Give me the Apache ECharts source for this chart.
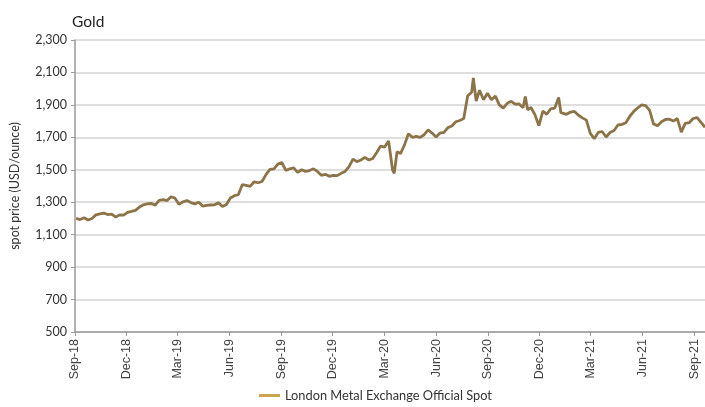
<!DOCTYPE html>
<html><head><meta charset="utf-8">
<script src="https://cdn.jsdelivr.net/npm/echarts@6/dist/echarts.min.js"></script>
<style>html,body{margin:0;padding:0;background:#fff}#c{width:705px;height:407px}</style>
</head><body><div id="c"></div>
<script>
const chartTitle = "Gold";
const seriesName = "London Metal Exchange Official Spot";
const yAxisName = "spot price (USD/ounce)";
const tickDates = ["2018-09-01","2018-12-01","2019-03-01","2019-06-01","2019-09-01","2019-12-01","2020-03-01","2020-06-01","2020-09-01","2020-12-01","2021-03-01","2021-06-01","2021-09-01"];
const tickLabels = ["Sep-18","Dec-18","Mar-19","Jun-19","Sep-19","Dec-19","Mar-20","Jun-20","Sep-20","Dec-20","Mar-21","Jun-21","Sep-21"];
const dates = [
"2018-09-03","2018-09-10","2018-09-17","2018-09-24","2018-10-01","2018-10-08","2018-10-15","2018-10-22","2018-10-29",
"2018-11-05","2018-11-12","2018-11-19","2018-11-26","2018-12-03","2018-12-10","2018-12-17","2018-12-24","2018-12-31",
"2019-01-07","2019-01-14","2019-01-21","2019-01-28","2019-02-04","2019-02-11","2019-02-18","2019-02-25",
"2019-03-04","2019-03-11","2019-03-18","2019-03-25","2019-04-01","2019-04-08","2019-04-15","2019-04-22","2019-04-29",
"2019-05-06","2019-05-13","2019-05-20","2019-05-27","2019-06-03","2019-06-10","2019-06-17","2019-06-24",
"2019-07-01","2019-07-08","2019-07-15","2019-07-22","2019-07-29","2019-08-05","2019-08-12","2019-08-19","2019-08-26",
"2019-09-02","2019-09-09","2019-09-16","2019-09-23","2019-09-30","2019-10-07","2019-10-14","2019-10-21","2019-10-28",
"2019-11-04","2019-11-11","2019-11-18","2019-11-25","2019-12-02","2019-12-09","2019-12-16","2019-12-23","2019-12-30",
"2020-01-06","2020-01-13","2020-01-20","2020-01-27","2020-02-03","2020-02-10","2020-02-17","2020-02-24",
"2020-03-02","2020-03-09","2020-03-16","2020-03-19","2020-03-24","2020-03-30","2020-04-06","2020-04-13","2020-04-20","2020-04-27",
"2020-05-04","2020-05-11","2020-05-18","2020-05-25","2020-06-01","2020-06-08","2020-06-15","2020-06-22","2020-06-29",
"2020-07-06","2020-07-13","2020-07-20","2020-07-27","2020-08-03","2020-08-06","2020-08-11","2020-08-17","2020-08-24","2020-08-31",
"2020-09-07","2020-09-14","2020-09-21","2020-09-28","2020-10-05","2020-10-12","2020-10-19","2020-10-26",
"2020-11-02","2020-11-06","2020-11-10","2020-11-16","2020-11-23","2020-11-30","2020-12-07","2020-12-14","2020-12-21","2020-12-28",
"2021-01-04","2021-01-08","2021-01-11","2021-01-18","2021-01-25","2021-02-01","2021-02-08","2021-02-15","2021-02-22",
"2021-03-01","2021-03-08","2021-03-15","2021-03-22","2021-03-29","2021-04-05","2021-04-12","2021-04-19","2021-04-26",
"2021-05-03","2021-05-10","2021-05-17","2021-05-24","2021-05-31","2021-06-07","2021-06-14","2021-06-21","2021-06-28",
"2021-07-05","2021-07-12","2021-07-19","2021-07-26","2021-08-02","2021-08-09","2021-08-16","2021-08-23","2021-08-30",
"2021-09-06","2021-09-13","2021-09-20"
];
const prices = [
1200,1193,1204,1190,1200,1222,1228,1233,1224,
1226,1208,1222,1220,1238,1243,1250,1270,1284,
1290,1292,1282,1312,1316,1310,1334,1325,
1288,1302,1310,1298,1290,1300,1276,1280,1283,
1284,1296,1274,1286,1326,1340,1346,1408,
1404,1398,1426,1420,1428,1470,1502,1505,1535,
1545,1496,1506,1512,1484,1500,1490,1495,1506,
1490,1466,1472,1460,1466,1464,1478,1490,1520,
1566,1550,1560,1576,1560,1570,1606,1646,
1640,1678,1500,1478,1612,1600,1652,1722,1700,1706,
1700,1716,1746,1726,1702,1726,1730,1760,1770,
1796,1804,1816,1956,1978,2066,1924,1990,1932,1972,
1932,1954,1900,1880,1910,1922,1904,1906,
1882,1952,1870,1884,1840,1772,1862,1842,1876,1880,
1946,1852,1850,1842,1856,1860,1836,1820,1806,
1724,1692,1730,1736,1702,1730,1742,1776,1780,
1790,1830,1860,1882,1900,1896,1866,1782,1772,
1796,1810,1812,1800,1816,1732,1786,1790,1816,
1822,1792,1762
];
const yMin = 500, yMax = 2300, yStep = 200;

const chart = echarts.init(document.getElementById('c'));
const toTs = s => new Date(s + "T00:00:00Z").getTime();
const tickTs = tickDates.map(toTs);
const data = dates.map((d, i) => [toTs(d), prices[i]]);
const fmtNum = v => v.toLocaleString('en-US');
chart.setOption({
  animation: false,
  backgroundColor: '#fff',
  title: { text: chartTitle, left: 67, top: 9, textStyle: { fontFamily: 'Lato', fontSize: 15.5, fontWeight: 'normal', color: '#222' } },
  grid: { left: 71, right: 0, top: 40, bottom: 75 },
  legend: {
    bottom: 0, left: 254, icon: 'rect', itemWidth: 21, itemHeight: 3, itemGap: 8,
    textStyle: { fontFamily: 'Lato', fontSize: 12.8, color: '#333' },
    data: [{ name: seriesName, itemStyle: { color: '#c9a64f' } }]
  },
  xAxis: {
    type: 'value', min: toTs("2018-09-01"), max: toTs("2021-09-20"),
    splitLine: { show: false },
    axisLine: { lineStyle: { color: '#999', width: 1.5 } },
    axisTick: { show: true, length: 4, lineStyle: { color: '#999' }, customValues: tickTs },
    axisLabel: {
      customValues: tickTs, rotate: 90, fontFamily: 'Liberation Sans', fontSize: 12.5, color: '#444', margin: 7,
      formatter: v => { const i = tickTs.indexOf(v); return i >= 0 ? tickLabels[i] : ''; }
    }
  },
  yAxis: {
    type: 'value', min: yMin, max: yMax, interval: yStep,
    name: yAxisName, nameLocation: 'middle', nameGap: 54, nameRotate: 90,
    nameTextStyle: { fontFamily: 'Lato', fontSize: 12.5, color: '#333' },
    axisLine: { show: true, lineStyle: { color: '#999', width: 1.5 } },
    axisTick: { show: true, length: 4, lineStyle: { color: '#999' } },
    axisLabel: { fontFamily: 'Lato', fontSize: 12.5, color: '#333', margin: 8, formatter: fmtNum },
    splitLine: { lineStyle: { color: '#d4d4d4', width: 1.5 } }
  },
  series: [{
    name: seriesName, type: 'line', data: data, showSymbol: false, symbol: 'none',
    lineStyle: { color: '#8c7348', width: 2.8 }, itemStyle: { color: '#8c7348' }
  }]
});
</script></body></html>
